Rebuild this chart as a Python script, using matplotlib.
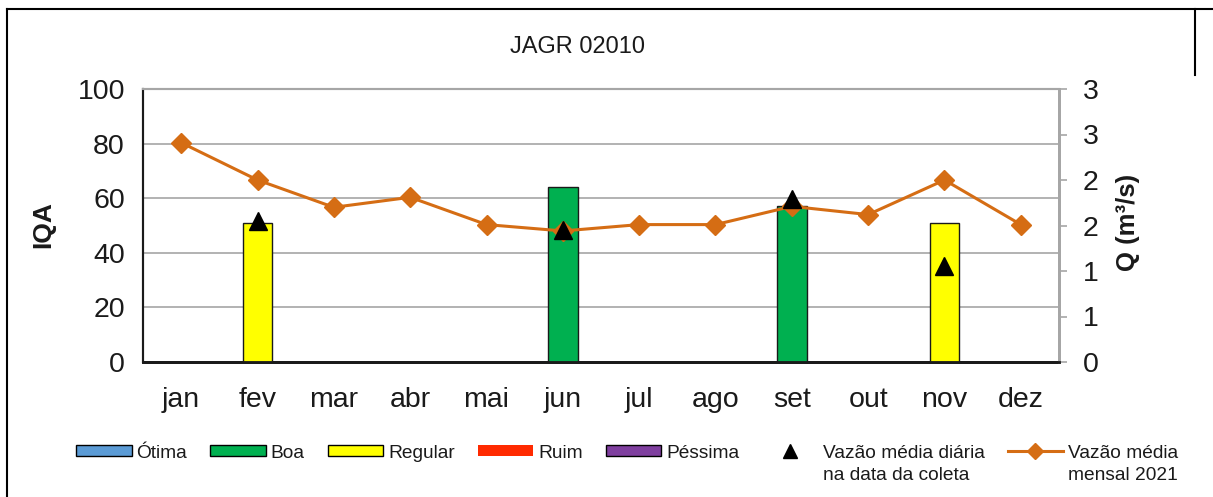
import numpy as np
import matplotlib.pyplot as plt
from matplotlib.patches import Patch
from matplotlib.lines import Line2D

plt.rcParams['font.family'] = ['Liberation Sans', 'DejaVu Sans']

# dados
meses = ['jan', 'fev', 'mar', 'abr', 'mai', 'jun', 'jul', 'ago', 'set', 'out', 'nov', 'dez']
iqa_meses = ['fev', 'jun', 'set', 'nov']
iqa_valores = [51, 64, 57, 51]
iqa_classes = ['Regular', 'Boa', 'Boa', 'Regular']
vazao_mensal = [2.41, 2.00, 1.70, 1.81, 1.51, 1.44, 1.51, 1.51, 1.71, 1.62, 2.00, 1.51]
vazao_coleta = [np.nan, 1.55, np.nan, np.nan, np.nan, 1.45, np.nan, np.nan, 1.79, np.nan, 1.06, np.nan]
iqa_ticks = [0, 20, 40, 60, 80, 100]
q_ticks = [0, 0.5, 1.0, 1.5, 2.0, 2.5, 3.0]
q_labels = ['0', '1', '1', '2', '2', '3', '3']

classes = ['Ótima', 'Boa', 'Regular', 'Ruim', 'Péssima']
cores = {'Ótima': '#5B9BD5', 'Boa': '#00B050', 'Regular': '#FFFF00',
         'Ruim': '#FF2A00', 'Péssima': '#7F3F9F'}
laranja = '#D56D14'
cinza = '#A6A6A6'
texto = '#1a1a1a'

fig = plt.figure(figsize=(12.13, 4.97), dpi=100)
ax = fig.add_axes([143 / 1213, 1 - 362 / 497, 916 / 1213, 273 / 497])
ax2 = ax.twinx()

x = np.arange(len(meses))
pos = [meses.index(m) for m in iqa_meses]

# barras do IQA
ax.bar(pos, iqa_valores, width=0.39, color=[cores[c] for c in iqa_classes],
       edgecolor=texto, linewidth=1.0, zorder=3)
ax.set_ylim(0, 100)
ax.set_xlim(-0.5, len(meses) - 0.5)
ax.set_yticks(iqa_ticks)
ax.set_xticks(x)
ax.set_xticklabels(meses)
ax.yaxis.grid(True, color=cinza, linewidth=1.2)
ax.set_axisbelow(True)
ax.tick_params(axis='y', length=0, pad=13, labelsize=20.5, colors=texto)
ax.tick_params(axis='x', length=0, pad=18, labelsize=20.5, colors=texto)

# vazoes
ax2.plot(x, vazao_mensal, color=laranja, linewidth=2.2, marker='D',
         markersize=10.5, zorder=4)
ax2.plot(x, vazao_coleta, linestyle='none', marker='^', color='black',
         markersize=12.5, zorder=5)
ax2.set_ylim(0, 3)
ax2.set_yticks(q_ticks)
ax2.set_yticklabels(q_labels)
ax2.tick_params(axis='y', length=6, width=1.2, color=cinza, pad=11,
                labelsize=20.5, labelcolor=texto)

for a in (ax, ax2):
    a.spines['top'].set_color(cinza)
    a.spines['top'].set_linewidth(1.5)
    a.spines['right'].set_color(cinza)
    a.spines['right'].set_linewidth(2)
    a.spines['left'].set_color(texto)
    a.spines['left'].set_linewidth(1.5)
    a.spines['bottom'].set_color(texto)
    a.spines['bottom'].set_linewidth(2)

# textos
fig.text(577 / 1213, 1 - 47 / 497, 'JAGR 02010', ha='center', va='center',
         fontsize=17, color=texto)
fig.text(43 / 1213, 1 - 224.5 / 497, 'IQA', ha='center', va='center',
         rotation=90, fontsize=19, fontweight='bold', color=texto)
fig.text(1128 / 1213, 1 - 222.5 / 497, 'Q (m³/s)', ha='center', va='center',
         rotation=90, fontsize=18.5, fontweight='bold', color=texto)

# legenda
handles = []
for c in classes:
    if c == 'Ruim':
        handles.append(Patch(facecolor=cores[c], edgecolor='none'))
    else:
        handles.append(Patch(facecolor=cores[c], edgecolor='black', linewidth=1.0))
handles.append(Line2D([], [], linestyle='none', marker='^', color='black', markersize=12.5))
handles.append(Line2D([], [], color=laranja, linewidth=2.2, marker='D', markersize=10.5))
rotulos = classes + ['Vazão média diária', 'Vazão média']
segundas = {5: 'na data da coleta', 6: 'mensal 2021'}

leg = fig.legend(handles, rotulos, loc='center', bbox_to_anchor=(0.517, 1 - 453 / 497),
                 ncol=7, frameon=False, fontsize=13.8, handlelength=2.9, handleheight=0.5,
                 handletextpad=0.25, columnspacing=1.2, borderpad=0, markerscale=0.75,
                 labelcolor=texto)

fig.canvas.draw()
inv = fig.transFigure.inverted()
for i, s in segundas.items():
    bb = leg.get_texts()[i].get_window_extent()
    px, py = inv.transform((bb.x0, bb.y0 - 23))
    fig.text(px, py, s, ha='left', va='bottom', fontsize=13.8, color=texto)

# moldura
borda = dict(transform=fig.transFigure, color='black', linewidth=1.5)
fig.add_artist(Line2D([7 / 1213, 7 / 1213], [0, 1 - 9 / 497], **borda))
fig.add_artist(Line2D([7 / 1213, 1], [1 - 9 / 497, 1 - 9 / 497], **borda))
fig.add_artist(Line2D([1195 / 1213, 1195 / 1213], [1 - 9 / 497, 1 - 75 / 497], **borda))

fig.savefig('out.png', dpi=100)
